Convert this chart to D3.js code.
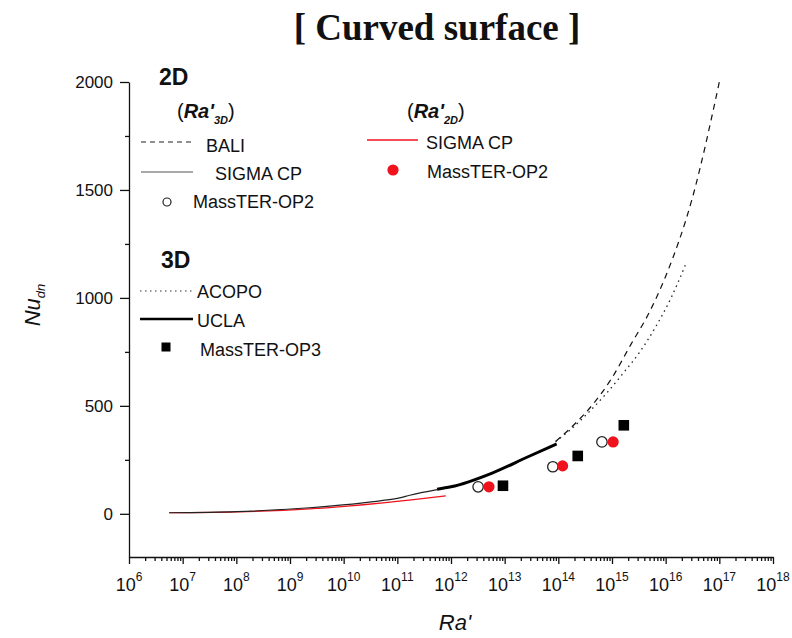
<!DOCTYPE html>
<html>
<head>
<meta charset="utf-8">
<script src="https://cdn.jsdelivr.net/npm/d3@7"></script>
<style>
  html, body { margin: 0; padding: 0; background: #fff; }
  svg { display: block; }
  text { font-family: Arial, "Liberation Sans", sans-serif; fill: #111; }
</style>
</head>
<body>
<svg id="chart" width="792" height="638"></svg>
<script>
// ---- data: Nu_dn versus Ra' (curved surface) ----
// 2D correlations plotted against Ra'_3D
const baliRa    = [8.9e13, 2e14, 4.5e14, 1e15, 2.2e15, 5e15, 1e16, 3.2e16, 1e17];
const baliNu    = [335, 415, 510, 630, 780, 935, 1100, 1470, 2000];
const sigma3Ra  = [5.6e6, 1e8, 2.3e9, 5.4e10, 1.1e11, 1.7e11, 5.5e11];
const sigma3Nu  = [5, 10, 28, 62, 74, 86, 112];
const op2OpenRa = [3.2e12, 7.9e13, 6.5e14];
const op2OpenNu = [125, 218, 333];
// 2D correlations plotted against Ra'_2D
const sigma2Ra  = [5.6e6, 1e8, 2.3e9, 5.4e10, 2e11, 8e11];
const sigma2Nu  = [5, 9, 23, 51, 66, 83];
const op2FillRa = [5.1e12, 1.2e14, 1.05e15];
const op2FillNu = [125, 222, 333];
// 3D correlations
const acopoRa   = [8.9e13, 1.6e14, 3.5e14, 8e14, 1.6e15, 3.2e15, 6.3e15, 1.26e16, 2.4e16];
const acopoNu   = [335, 385, 465, 560, 650, 745, 860, 1000, 1160];
const uclaRa    = [5.5e11, 1e12, 6e12, 2.6e13, 9.3e13];
const uclaNu    = [114, 125, 190, 262, 324];
const op3Ra     = [9.3e12, 2.3e14, 1.66e15];
const op3Nu     = [130, 268, 410];
// axes
const xDecades  = d3.range(6, 19);
const yTicks    = [0, 500, 1000, 1500, 2000];
const yMinor    = [250, 750, 1250, 1750];

const svg = d3.select("#chart");
const x = d3.scaleLog().domain([1e6, 1e18]).range([129, 773]);
const y = d3.scaleLinear().domain([-200, 2000]).range([557, 82]);
const RED = "#f0121c";

const pairs = (a, b) => a.map((v, i) => [v, b[i]]);

// ---- title ----
svg.append("text")
  .attr("x", 437).attr("y", 40)
  .attr("text-anchor", "middle")
  .style("font-family", "'Liberation Serif', 'Times New Roman', serif")
  .style("font-weight", "bold").style("font-size", "37px")
  .text("[ Curved surface ]");

// ---- axes ----
const minorX = [];
xDecades.slice(0, -1).forEach(d => { for (let k = 2; k <= 9; k++) minorX.push(k * Math.pow(10, d)); });

const gx = svg.append("g").attr("transform", `translate(0,${y.range()[0]})`);
gx.call(d3.axisBottom(x).tickValues(xDecades.map(d => Math.pow(10, d))).tickSize(7).tickSizeOuter(0).tickFormat(""));
gx.append("g").call(d3.axisBottom(x).tickValues(minorX).tickSize(4).tickSizeOuter(0).tickFormat(""))
  .select(".domain").remove();
gx.selectAll("path, line").attr("stroke", "#111").attr("stroke-width", 1.3);

const xl = gx.selectAll(".xlab").data(xDecades).enter().append("text")
  .attr("class", "xlab")
  .attr("x", d => x(Math.pow(10, d)))
  .attr("y", 34)
  .attr("text-anchor", "middle")
  .style("font-size", "18px");
xl.append("tspan").text("10");
xl.append("tspan").attr("dy", -10).style("font-size", "12px").text(d => d);

const gy = svg.append("g").attr("transform", `translate(${x.range()[0]},0)`);
gy.call(d3.axisLeft(y).tickValues(yTicks).tickSize(9).tickSizeOuter(0).tickPadding(7).tickFormat(d3.format("d")));
gy.append("g").call(d3.axisLeft(y).tickValues(yMinor).tickSize(4).tickSizeOuter(0).tickFormat(""))
  .select(".domain").remove();
gy.selectAll("path, line").attr("stroke", "#111").attr("stroke-width", 1.3);
gy.selectAll("text").style("font-size", "17px").style("font-family", "Arial, 'Liberation Sans', sans-serif").attr("fill", "#111");

// axis titles
const yt = svg.append("text")
  .attr("transform", "translate(40,305) rotate(-90)")
  .attr("text-anchor", "middle")
  .style("font-style", "italic").style("font-size", "22px");
yt.append("tspan").text("Nu");
yt.append("tspan").attr("dy", 5).style("font-size", "13px").text("dn");

svg.append("text")
  .attr("x", 455).attr("y", 630)
  .attr("text-anchor", "middle")
  .style("font-style", "italic").style("font-size", "22px")
  .text("Ra'");

// ---- curves ----
const line = d3.line().x(d => x(d[0])).y(d => y(d[1])).curve(d3.curveMonotoneX);
const plot = svg.append("g");

plot.append("path").datum(pairs(sigma2Ra, sigma2Nu))
  .attr("d", line).attr("fill", "none").attr("stroke", RED).attr("stroke-width", 1.2);
plot.append("path").datum(pairs(sigma3Ra, sigma3Nu))
  .attr("d", line).attr("fill", "none").attr("stroke", "#222").attr("stroke-width", 1.2);
plot.append("path").datum(pairs(uclaRa, uclaNu))
  .attr("d", line).attr("fill", "none").attr("stroke", "#000").attr("stroke-width", 3);
plot.append("path").datum(pairs(baliRa, baliNu))
  .attr("d", line).attr("fill", "none").attr("stroke", "#111").attr("stroke-width", 1.2)
  .attr("stroke-dasharray", "6,5");
plot.append("path").datum(pairs(acopoRa, acopoNu))
  .attr("d", line).attr("fill", "none").attr("stroke", "#222").attr("stroke-width", 1.3)
  .attr("stroke-dasharray", "1.5,4");

// ---- markers ----
plot.selectAll(".op2o").data(pairs(op2OpenRa, op2OpenNu)).enter().append("circle")
  .attr("cx", d => x(d[0])).attr("cy", d => y(d[1])).attr("r", 5.2)
  .attr("fill", "#fff").attr("stroke", "#222").attr("stroke-width", 1.3);
plot.selectAll(".op2f").data(pairs(op2FillRa, op2FillNu)).enter().append("circle")
  .attr("cx", d => x(d[0])).attr("cy", d => y(d[1])).attr("r", 5.6)
  .attr("fill", RED);
plot.selectAll(".op3").data(pairs(op3Ra, op3Nu)).enter().append("rect")
  .attr("x", d => x(d[0]) - 5.3).attr("y", d => y(d[1]) - 5.3)
  .attr("width", 10.6).attr("height", 10.6).attr("fill", "#000");

// ---- legend ----
const lg = svg.append("g");
const lbl = (tx, ty, s, size) => lg.append("text").attr("x", tx).attr("y", ty)
  .style("font-size", (size || 18) + "px").text(s);
const seg = (x1, x2, yy, attrs) => {
  const l = lg.append("line").attr("x1", x1).attr("x2", x2).attr("y1", yy).attr("y2", yy);
  Object.entries(attrs).forEach(([k, v]) => l.attr(k, v));
};
const raHead = (tx, ty, sub) => {
  const t = lg.append("text").attr("x", tx).attr("y", ty).style("font-size", "20px");
  t.append("tspan").text("(");
  t.append("tspan").style("font-weight", "bold").style("font-style", "italic").text("Ra'");
  t.append("tspan").attr("dy", 6).style("font-size", "11px").style("font-weight", "bold").style("font-style", "italic").text(sub);
  t.append("tspan").attr("dy", -6).text(")");
};

lbl(159, 85, "2D", 23).style("font-weight", "bold");
raHead(177, 118, "3D");
seg(141, 193, 142, { stroke: "#222", "stroke-width": 1.2, "stroke-dasharray": "5,4" });
lbl(206, 152, "BALI");
seg(141, 193, 172, { stroke: "#555", "stroke-width": 1.2 });
lbl(215, 180, "SIGMA CP");
lg.append("circle").attr("cx", 167).attr("cy", 202).attr("r", 4).attr("fill", "#fff").attr("stroke", "#222").attr("stroke-width", 1.2);
lbl(193, 208, "MassTER-OP2");

raHead(407, 118, "2D");
seg(367, 418, 140, { stroke: RED, "stroke-width": 1.3 });
lbl(426, 149, "SIGMA CP");
lg.append("circle").attr("cx", 393).attr("cy", 170).attr("r", 5.6).attr("fill", RED);
lbl(427, 178, "MassTER-OP2");

lbl(161, 268, "3D", 23).style("font-weight", "bold");
seg(140, 192, 291, { stroke: "#333", "stroke-width": 1.2, "stroke-dasharray": "1.5,3.5" });
lbl(197, 298, "ACOPO");
seg(140, 193, 319, { stroke: "#000", "stroke-width": 2.6 });
lbl(197, 327, "UCLA");
lg.append("rect").attr("x", 161.5).attr("y", 342.5).attr("width", 9).attr("height", 9).attr("fill", "#000");
lbl(200, 356, "MassTER-OP3");
</script>
</body>
</html>
